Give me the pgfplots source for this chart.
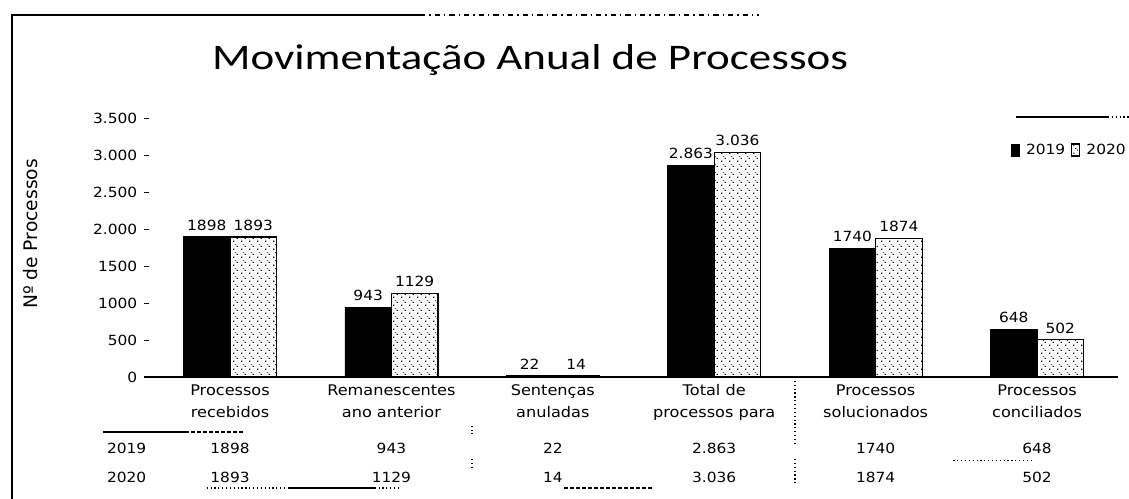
\documentclass[border=0pt]{standalone}
\usepackage{fontspec}
\setmainfont{DejaVu Sans}[FakeStretch=1.1]
\newfontfamily\titlefont{Carlito}[FakeStretch=1.25]
\newfontfamily\ylabfont{DejaVu Sans}
\usepackage{pgfplots}
\pgfplotsset{compat=1.18}
\usetikzlibrary{patterns.meta}
\tikzdeclarepattern{
  name=sparsedots,
  type=uncolored,
  bounding box={(0,0) and (6pt,6pt)},
  tile size={(6pt,6pt)},
  code={\fill (1pt,1pt) rectangle (1.9pt,1.9pt); \fill (4pt,3.5pt) rectangle (4.9pt,4.4pt); \fill (2.5pt,5pt) rectangle (3.4pt,5.6pt);}
}
\begin{document}
\begin{tikzpicture}
\useasboundingbox (0,0) rectangle (846.75pt,374.25pt);
\fill[white] (0,0) rectangle (846.75pt,374.25pt);
% frame
\draw[line width=1pt] (9pt,-5pt) -- (9pt,363pt) -- (315pt,363pt);
\draw[line width=1pt, dash pattern=on 4pt off 3pt on 1pt off 3pt] (315pt,363pt) -- (569pt,363pt);
\draw[line width=0.9pt] (762pt,286.5pt) -- (831pt,286.5pt);
\draw[line width=0.9pt, dotted] (831pt,286.5pt) -- (850pt,286.5pt);
% title
\node[anchor=base, font=\titlefont\fontsize{27}{32}\selectfont] at (397.5pt,321.75pt) {Movimentação Anual de Processos};
% y label
\node[rotate=90, font=\ylabfont\fontsize{14}{16}\selectfont] at (23.25pt,198.75pt) {Nº de Processos};
\begin{axis}[
  at={(108pt,91.5pt)}, anchor=south west,
  width=730.3pt, height=194.25pt, scale only axis,
  xmin=-0.533, xmax=5.5, ymin=0, ymax=3500,
  ybar=0pt, bar width=34.9pt,
  axis x line*=bottom, axis y line*=left,
  y axis line style={draw=none},
  x axis line style={line width=1pt, -},
  xtick={0,1,2,3,4,5},
  xticklabels={\strut Processos\\recebidos\strut, \strut Remanescentes\\ano anterior\strut, \strut Sentenças\\anuladas\strut, \strut Total de\\processos para\strut, \strut Processos\\solucionados\strut, \strut Processos\\conciliados\strut},
  xtick style={draw=none},
  x tick label style={align=center, font=\fontsize{11}{16.5}\selectfont, anchor=north, yshift=1pt},
  ytick={0,500,1000,1500,2000,2500,3000,3500},
  yticklabels={0,500,1000,1500,2.000,2.500,3.000,3.500},
  ytick style={black, line width=0.7pt},
  tick align=inside, major tick length=4pt,
  yticklabel style={font=\fontsize{10.5}{12}\selectfont, xshift=-1.5pt},
  /pgf/number format/.cd, 1000 sep={.}, assume math mode=true, /pgfplots/.cd,
  nodes near coords, point meta=explicit symbolic,
  every node near coord/.append style={font=\fontsize{10.5}{12}\selectfont, black, yshift=1pt},
  clip=false,
  legend columns=2,
  legend style={at={(0.89,0.8764)}, anchor=west, draw=none, fill=none, inner sep=0pt,
    font=\fontsize{10.5}{12}\selectfont,
    /tikz/every odd column/.append style={column sep=3pt},
    /tikz/every even column/.append style={column sep=2pt}},
  legend image code/.code={\draw[#1] (0pt,-4.5pt) rectangle (6pt,4.5pt);},
]
\addplot[fill=black, draw=black] coordinates {
  (0,1898) [1898] (1,943) [943] (2,22) [22] (3,2863) [2.863] (4,1740) [1740] (5,648) [648]
};
\addplot[draw=black, line width=0.9pt, fill=white, postaction={pattern=sparsedots, pattern color=black}] coordinates {
  (0,1893) [1893] (1,1129) [1129] (2,14) [14] (3,3036) [3.036] (4,1874) [1874] (5,502) [502]
};
\legend{2019, 2020}
% data table
\node[font=\fontsize{10.5}{12}\selectfont, yshift=-53.25pt] at (axis cs:0,0) {1898};
\node[font=\fontsize{10.5}{12}\selectfont, yshift=-53.25pt] at (axis cs:1,0) {943};
\node[font=\fontsize{10.5}{12}\selectfont, yshift=-53.25pt] at (axis cs:2,0) {22};
\node[font=\fontsize{10.5}{12}\selectfont, yshift=-53.25pt] at (axis cs:3,0) {2.863};
\node[font=\fontsize{10.5}{12}\selectfont, yshift=-53.25pt] at (axis cs:4,0) {1740};
\node[font=\fontsize{10.5}{12}\selectfont, yshift=-53.25pt] at (axis cs:5,0) {648};
\node[font=\fontsize{10.5}{12}\selectfont, yshift=-75pt] at (axis cs:0,0) {1893};
\node[font=\fontsize{10.5}{12}\selectfont, yshift=-75pt] at (axis cs:1,0) {1129};
\node[font=\fontsize{10.5}{12}\selectfont, yshift=-75pt] at (axis cs:2,0) {14};
\node[font=\fontsize{10.5}{12}\selectfont, yshift=-75pt] at (axis cs:3,0) {3.036};
\node[font=\fontsize{10.5}{12}\selectfont, yshift=-75pt] at (axis cs:4,0) {1874};
\node[font=\fontsize{10.5}{12}\selectfont, yshift=-75pt] at (axis cs:5,0) {502};
\end{axis}
\node[font=\fontsize{10.5}{12}\selectfont] at (95pt,38.25pt) {2019};
\node[font=\fontsize{10.5}{12}\selectfont] at (95pt,16.5pt) {2020};
% table grid remnants
\draw[line width=0.9pt] (77.25pt,50.25pt) -- (138.75pt,50.25pt);
\draw[line width=0.9pt, dash pattern=on 3pt off 1.5pt] (138.75pt,50.25pt) -- (182.25pt,50.25pt);
\draw[line width=0.9pt, dotted] (155pt,8.25pt) -- (216pt,8.25pt);
\draw[line width=0.9pt] (216pt,8.25pt) -- (281pt,8.25pt);
\draw[line width=0.9pt, dotted] (281pt,8.25pt) -- (300pt,8.25pt);
\draw[line width=0.9pt, dash pattern=on 3pt off 1.5pt] (423pt,8.25pt) -- (489pt,8.25pt);
\draw[line width=0.9pt, dotted] (596.25pt,91.5pt) -- (596.25pt,40pt);
\draw[line width=0.9pt, dotted] (596.25pt,30pt) -- (596.25pt,10pt);
\draw[line width=0.9pt, dotted] (354pt,55pt) -- (354pt,49pt);
\draw[line width=0.9pt, dotted] (354pt,30pt) -- (354pt,23pt);
\draw[line width=0.9pt, dotted] (715pt,29pt) -- (774pt,29pt);
\end{tikzpicture}
\end{document}
